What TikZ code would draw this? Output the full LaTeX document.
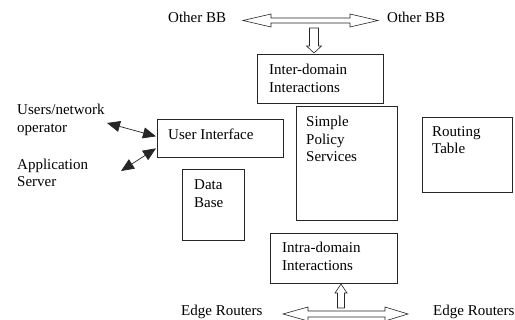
\documentclass[tikz,border=0pt]{standalone}
\usepackage{fontspec}
\setmainfont{Liberation Serif}
\usetikzlibrary{arrows.meta}
\begin{document}
\begin{tikzpicture}[x=1pt,y=-1pt,
  box/.style={draw=black!85,line width=0.7pt,inner sep=0pt,anchor=north west},
  txt/.style={inner sep=0pt,anchor=base west,align=left,font=\fontsize{15}{17.5}\selectfont},
  hollow/.style={draw=black!85,line width=0.6pt,fill=white,line join=miter},
  link/.style={draw=black!85,line width=0.7pt,{Triangle[length=13pt,width=11pt]}-{Triangle[length=13pt,width=11pt]}}]
\useasboundingbox (0,0) rectangle (515,320);
\fill[white] (0,0) rectangle (515,320);
% boxes
\node[box,minimum width=126pt,minimum height=49pt] (inter) at (257,54) {};
\node[box,minimum width=126pt,minimum height=38pt] (ui) at (157,119) {};
\node[box,minimum width=101pt,minimum height=114pt] (sps) at (296,106) {};
\node[box,minimum width=90pt,minimum height=75pt] (rt) at (422,117) {};
\node[box,minimum width=62pt,minimum height=71pt] (db) at (182,169) {};
\node[box,minimum width=127pt,minimum height=50pt] (intra) at (270,233) {};
% texts (base = last line baseline)
\node[txt] (obbl) at (168,23) {Other BB};
\node[txt] (obbr) at (387,23) {Other BB};
\node[txt] (intert) at (269,92.5) {Inter-domain\\Interactions};
\node[txt] (uit) at (168,140) {User Interface};
\node[txt] (spst) at (306,162) {Simple\\Policy\\Services};
\node[txt] (rtt) at (432,154) {Routing\\Table};
\node[txt] (dbt) at (194,207.5) {Data\\Base};
\node[txt] (intrat) at (282,270.5) {Intra-domain\\Interactions};
\node[txt] (users) at (17,132.5) {Users/network\\operator};
\node[txt] (app) at (17,187) {Application\\Server};
\node[txt] (erl) at (181,316) {Edge Routers};
\node[txt] (err) at (433,316) {Edge Routers};
% hollow arrows
\coordinate (ta) at (243,20.5);
\draw[hollow] (ta) -- ++(28,-6.5) -- ++(0,4) -- ++(79,0) -- ++(0,-4) -- (378,20.5)
  -- ++(-28,6.5) -- ++(0,-4) -- ++(-79,0) -- ++(0,4) -- cycle;
\coordinate (da) at (314,28);
\draw[hollow] (da) ++(-4.5,0) -- ++(9,0) -- ++(0,18) -- ++(3,0) -- (314,53) -- ++(-7.5,-7) -- ++(3,0) -- cycle;
\coordinate (ua) at (341,284);
\draw[hollow] (ua) -- ++(6,9) -- ++(-2.5,0) -- ++(0,15) -- ++(-7,0) -- ++(0,-15) -- ++(-2.5,0) -- cycle;
\coordinate (ba) at (283,314);
\draw[hollow] (ba) -- ++(25,-7) -- ++(0,4) -- ++(77,0) -- ++(0,-4) -- (408,314)
  -- ++(-23,7) -- ++(0,-4) -- ++(-77,0) -- ++(0,4) -- cycle;
% connectors
\coordinate (usersend) at (107,123);
\coordinate (append) at (121,171);
\draw[link] (usersend) -- ([xshift=-1pt,yshift=2pt]ui.west);
\draw[link] ([xshift=-1pt,yshift=-10pt]ui.west) -- (append);
\end{tikzpicture}
\end{document}
